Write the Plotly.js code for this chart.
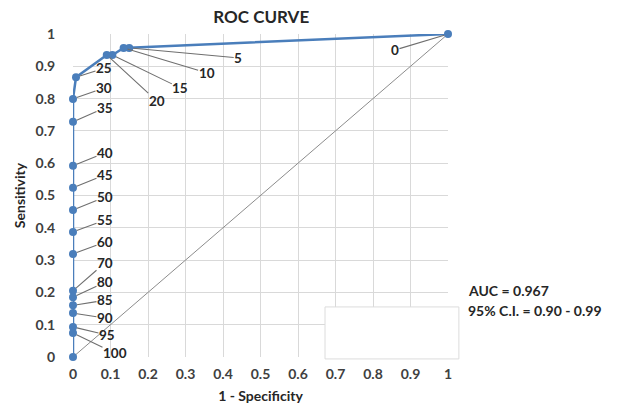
<!DOCTYPE html>
<html>
<head>
<meta charset="utf-8">
<script src="https://cdn.plot.ly/plotly-3.0.1.min.js"></script>
<style>html,body{margin:0;padding:0;background:#fff;}#chart{width:622px;height:405px;}</style>
</head>
<body>
<div id="chart"></div>
<script>
// Data
const thresholds = ["0","5","10","15","20","25","30","35","40","45","50","55","60","70","80","85","90","95","100",""];
const fpr = [1, 0.15, 0.135, 0.105, 0.09, 0.008, 0, 0, 0, 0, 0, 0, 0, 0, 0, 0, 0, 0, 0, 0];
const sensitivity = [1, 0.957, 0.957, 0.935, 0.935, 0.866, 0.799, 0.728, 0.592, 0.524, 0.455, 0.387, 0.319, 0.205, 0.185, 0.16, 0.136, 0.093, 0.074, 0];
const tickVals = [0,0.1,0.2,0.3,0.4,0.5,0.6,0.7,0.8,0.9,1];
const tickText = ["0","0.1","0.2","0.3","0.4","0.5","0.6","0.7","0.8","0.9","1"];
const aucText = "AUC = 0.967";
const ciText = "95% C.I. = 0.90 - 0.99";

// Label placement offsets (pixels), layout only
const labelOffsets = [[-53,16],[109,10],[83,25],[68,33],[50,46],[28,-9],[31,-11],[32,-14],[32,-13],[32,-13],[32,-13],[32,-12],[32,-12],[32,-28],[32,-15],[32,-5],[32,5],[34,8],[42,20]];

const FONT = "Lato, 'Open Sans', sans-serif";
const txt = "#404040";

const annotations = [];
thresholds.forEach((t, i) => {
  if (t === "") return;
  const off = labelOffsets[i];
  annotations.push({
    x: fpr[i], y: sensitivity[i], xref: 'x', yref: 'y',
    text: '<b>' + t + '</b>', showarrow: true, arrowhead: 0, arrowwidth: 1.1,
    arrowcolor: '#6f6f6f', ax: off[0], ay: off[1], standoff: 4, startstandoff: 0,
    borderpad: 0,
    font: {family: FONT, size: 13.5, color: '#262626'}
  });
});
annotations.push({xref:'paper', yref:'paper', x:1.047, y:0.207, xanchor:'left', yanchor:'middle', showarrow:false,
  text:'<b>'+aucText+'</b>', font:{family:FONT, size:14, color:'#262626'}});
annotations.push({xref:'paper', yref:'paper', x:1.047, y:0.143, xanchor:'left', yanchor:'middle', showarrow:false,
  text:'<b>'+ciText+'</b>', font:{family:FONT, size:14, color:'#262626'}});

const traces = [
  {x:[0,1], y:[0,1], mode:'lines', line:{color:'#8c8c8c', width:1}, hoverinfo:'skip', cliponaxis:false},
  {x:fpr, y:sensitivity, mode:'lines+markers', line:{color:'#4a7ebb', width:2.5},
   marker:{color:'#4a7ebb', size:8}, cliponaxis:false}
];

const boldTicks = tickText.map(t => '<b>' + t + '</b>');

const layout = {
  width:622, height:405, showlegend:false,
  paper_bgcolor:'#fff', plot_bgcolor:'#fff',
  margin:{l:73, r:174, t:34, b:48},
  title:{text:'<b>ROC CURVE</b>', x:0.42, xanchor:'center', y:0.957, yanchor:'middle',
         font:{family:FONT, size:17, color:'#262626'}},
  xaxis:{range:[0,1], tickvals:tickVals, ticktext:boldTicks, showgrid:true, gridcolor:'#d9d9d9', gridwidth:1,
         zeroline:false, showline:false, ticks:'outside', ticklen:4, tickcolor:'rgba(0,0,0,0)',
         tickfont:{family:FONT, size:14, color:txt},
         title:{text:'<b>1 - Specificity</b>', standoff:10, font:{family:FONT, size:14, color:'#262626'}}},
  yaxis:{range:[0,1], tickvals:tickVals, ticktext:boldTicks, showgrid:true, gridcolor:'#d9d9d9', gridwidth:1,
         zeroline:false, showline:false, ticks:'outside', ticklen:14, tickcolor:'rgba(0,0,0,0)',
         tickfont:{family:FONT, size:14, color:txt},
         title:{text:'<b>Sensitivity</b>', standoff:6, font:{family:FONT, size:14, color:'#262626'}}},
  shapes:[{type:'rect', xref:'paper', yref:'paper', x0:0.672, x1:1.029, y0:-0.006, y1:0.155,
           fillcolor:'#ffffff', line:{color:'#dcdcdc', width:1}, layer:'above'}],
  annotations: annotations
};

Plotly.newPlot('chart', traces, layout, {displayModeBar:false, staticPlot:true});
</script>
</body>
</html>
